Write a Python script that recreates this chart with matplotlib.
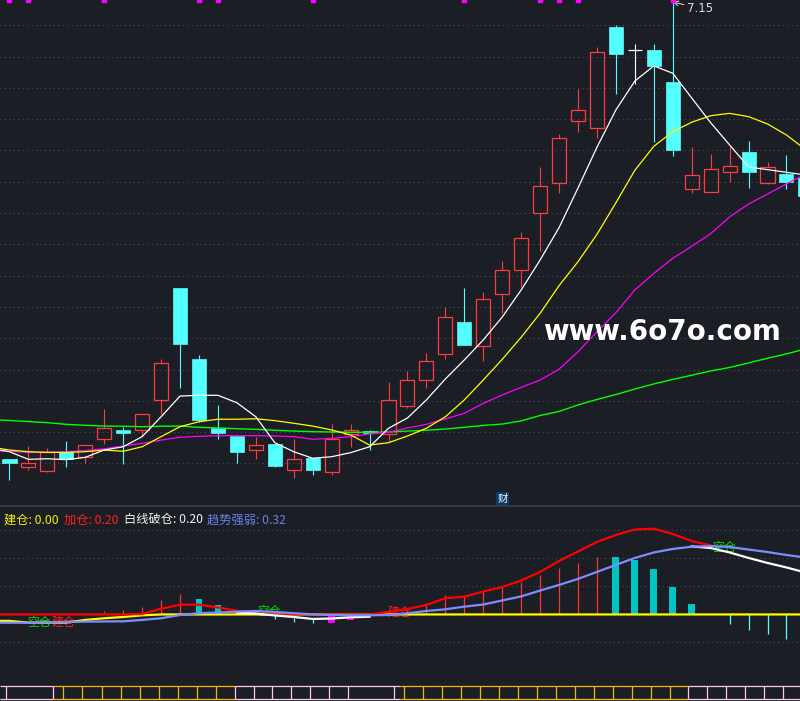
import matplotlib
matplotlib.use('Agg')
import matplotlib.pyplot as plt
from matplotlib.patches import Rectangle
import numpy as np

plt.rcParams['font.family'] = ['Noto Sans CJK SC', 'DejaVu Sans']

BG = '#1c1e26'
RED = '#ff3c3c'
CYAN = '#54ffff'
GRID = '#4a4e58'

# ---------------- data: daily candles (price) ----------------
opens = [4.209, 4.158, 4.136, 4.254, 4.226, 4.338, 4.398, 4.396, 4.589, 5.311,
         4.854, 4.411, 4.361, 4.267, 4.308, 4.138, 4.216, 4.126, 4.370, 4.391,
         4.370, 4.550, 4.719, 4.888, 5.092, 4.940, 5.270, 5.425, 5.791, 5.984,
         6.383, 6.338, 6.989, 6.840, 6.841, 6.636, 5.946, 5.930, 6.055, 6.184,
         5.988, 6.046, 6.018]
highs = [4.209, 4.295, 4.282, 4.327, 4.301, 4.533, 4.419, 4.501, 4.854, 5.311,
         4.880, 4.558, 4.361, 4.353, 4.308, 4.340, 4.216, 4.436, 4.438, 4.396,
         4.706, 4.777, 4.893, 5.187, 5.311, 5.285, 5.485, 5.669, 6.089, 6.299,
         6.589, 6.859, 7.002, 6.880, 6.880, 7.150, 6.218, 6.173, 6.218, 6.256,
         6.121, 6.166, 6.057]
lows = [4.076, 4.140, 4.130, 4.162, 4.187, 4.310, 4.181, 4.359, 4.503, 4.670,
        4.447, 4.342, 4.187, 4.213, 4.160, 4.091, 4.110, 4.110, 4.290, 4.271,
        4.329, 4.541, 4.670, 4.856, 4.946, 4.843, 5.152, 5.315, 5.549, 5.920,
        6.312, 6.274, 6.560, 6.621, 6.252, 6.158, 5.920, 5.930, 5.994, 5.956,
        5.978, 5.949, 5.903]
closes = [4.187, 4.184, 4.254, 4.209, 4.299, 4.409, 4.380, 4.499, 4.827, 4.953,
          4.464, 4.380, 4.258, 4.299, 4.168, 4.209, 4.142, 4.338, 4.396, 4.380,
          4.589, 4.717, 4.839, 5.122, 4.946, 5.238, 5.425, 5.631, 5.965, 6.274,
          6.454, 6.827, 6.818, 6.840, 6.740, 6.200, 6.036, 6.074, 6.094, 6.059,
          6.087, 5.994, 5.903]

# moving averages, from bar -1 (left of view) to bar 42
ma_white = [4.279, 4.258, 4.209, 4.213, 4.207, 4.222, 4.269, 4.290, 4.355, 4.483,
            4.616, 4.621, 4.621, 4.573, 4.483, 4.316, 4.258, 4.216, 4.226, 4.252,
            4.290, 4.409, 4.475, 4.591, 4.726, 4.848, 4.977, 5.124, 5.298, 5.491,
            5.699, 5.954, 6.216, 6.456, 6.642, 6.739, 6.692, 6.533, 6.374, 6.231,
            6.089, 6.072, 6.055, 6.038]
ma_yellow = [4.288, 4.269, 4.258, 4.254, 4.254, 4.258, 4.269, 4.261, 4.290, 4.355,
             4.419, 4.451, 4.467, 4.467, 4.470, 4.458, 4.441, 4.423, 4.398, 4.366,
             4.301, 4.316, 4.359, 4.409, 4.483, 4.591, 4.719, 4.852, 4.994, 5.148,
             5.326, 5.480, 5.656, 5.859, 6.068, 6.222, 6.316, 6.377, 6.419, 6.434,
             6.413, 6.366, 6.295, 6.202]
ma_magenta = [4.264, 4.261, 4.254, 4.254, 4.258, 4.266, 4.277, 4.295, 4.312, 4.333,
              4.351, 4.357, 4.361, 4.361, 4.361, 4.359, 4.355, 4.338, 4.344, 4.355,
              4.372, 4.383, 4.411, 4.434, 4.469, 4.505, 4.569, 4.623, 4.672, 4.719,
              4.788, 4.901, 5.030, 5.152, 5.298, 5.405, 5.502, 5.579, 5.660, 5.768,
              5.851, 5.915, 5.980, 6.044]
ma_green = [4.465, 4.459, 4.452, 4.445, 4.434, 4.428, 4.423, 4.422, 4.419, 4.422,
            4.423, 4.415, 4.411, 4.406, 4.402, 4.396, 4.391, 4.387, 4.385, 4.383,
            4.383, 4.385, 4.391, 4.396, 4.404, 4.415, 4.427, 4.436, 4.456, 4.491,
            4.517, 4.559, 4.594, 4.626, 4.661, 4.694, 4.723, 4.750, 4.777, 4.800,
            4.829, 4.859, 4.887, 4.919]

signal_bars = [0, 1, 5, 10, 11, 16, 24, 28, 29, 30, 35]
high_label = '7.15'

# ---------------- data: indicator panel (bar -1 .. 42) ----------------
nan = np.nan
jiancang = [-0.046, -0.046, -0.058, -0.058, -0.058, -0.039, -0.027, -0.018, -0.006] + [0.0] * 35
jiacang = [0.0, 0, 0, 0, 0, 0, 0, 0, 0.003, 0.041, 0.07, 0.07, 0.05, 0.026, 0.011,
           0, 0, 0, 0, 0, 0, 0.018, 0.039, 0.068, 0.116, 0.127, 0.164, 0.196, 0.243,
           0.304, 0.382, 0.45, 0.518, 0.568, 0.607, 0.613, 0.575, 0.525, 0.493,
           nan, nan, nan, nan, nan]
baixian = [nan] * 13 + [0.013, 0.007, -0.007, -0.018, -0.032, -0.029, -0.02, -0.016] + \
          [nan] * 16 + [0.486, 0.475, 0.443, 0.404, 0.368, 0.336, 0.3]
qushi = [-0.059, -0.059, -0.059, -0.057, -0.054, -0.051, -0.05, -0.049, -0.039, -0.027,
         -0.004, 0.009, 0.014, 0.02, 0.025, 0.018, 0.009, 0.001, -0.004, -0.006,
         -0.006, -0.004, 0.009, 0.025, 0.037, 0.056, 0.071, 0.1, 0.129, 0.171,
         0.211, 0.254, 0.304, 0.354, 0.404, 0.443, 0.468, 0.484, 0.489, 0.482,
         0.464, 0.446, 0.425, 0.407]

red_stick_bars = [5, 6, 7, 8, 9, 21, 22, 23, 24, 25, 26, 27, 28, 29, 30, 31]
red_stick_vals = [0.024, 0.031, 0.054, 0.102, 0.145, 0.03, 0.079, 0.138, 0.138,
                  0.161, 0.197, 0.233, 0.281, 0.329, 0.369, 0.411]
teal_bars = [10, 11, 32, 33, 34, 35, 36]
teal_vals = [0.111, 0.068, 0.413, 0.389, 0.325, 0.196, 0.075]
cyan_down_bars = [38, 39, 40, 41]
cyan_down_vals = [-0.068, -0.111, -0.139, -0.175]
cyan_mid_bars = [14, 15, 16]
cyan_mid_top = [-0.004, -0.027, -0.034]
cyan_mid_bot = [-0.034, -0.051, -0.063]
mag_bars = [17, 18, 19]
mag_top = [-0.011, -0.011, -0.013]
mag_bot = [-0.059, -0.039, -0.018]

legend_items = [('建仓: 0.00', '#f0f000'), ('加仓: 0.20', '#ff2020'),
                ('白线破仓: 0.20', '#f0f0f0'), ('趋势强弱: 0.32', '#6b80ec')]

# ---------------- figure ----------------
W, H = 800, 701
fig = plt.figure(figsize=(8, 7.01), dpi=100, facecolor=BG)


def fax(top, bot):
    a = fig.add_axes([0, 1 - bot / H, 1, (bot - top) / H])
    a.set_facecolor(BG)
    for s in a.spines.values():
        s.set_visible(False)
    a.set_xticks([]); a.set_yticks([])
    return a


XL = (-0.5013, 41.715)
ax = fax(0, 506)
ax.set_xlim(*XL)
ax.set_ylim(3.909, 7.163)
ax2 = fax(506, 685)
ax2.set_xlim(*XL)
ax2.set_ylim(-0.504, 0.775)
ax3 = fax(685, 701)
ax3.set_xlim(0, 800)
ax3.set_ylim(16, 0)

# grid
for k in range(15):
    ax.axhline(7.0 - 0.2012 * k, color=GRID, lw=0.8, ls=(0, (1, 3)), zorder=0)
for g in [0.6, 0.4, 0.2, -0.2]:
    ax2.axhline(g, color=GRID, lw=0.8, ls=(0, (1, 3)), zorder=0)

# candles
bw = 0.74
for i, (o, h, l, c) in enumerate(zip(opens, highs, lows, closes)):
    if c > o:
        ax.vlines(i, c, h, color=RED, lw=0.8, zorder=2)
        ax.vlines(i, l, o, color=RED, lw=0.8, zorder=2)
        ax.add_patch(Rectangle((i - bw / 2, o), bw, c - o, fill=False,
                               edgecolor=RED, lw=0.9, zorder=2))
    elif c < o:
        ax.vlines(i, l, h, color=CYAN, lw=0.8, zorder=2)
        ax.add_patch(Rectangle((i - bw / 2, c), bw, o - c, facecolor=CYAN,
                               edgecolor=CYAN, lw=0.5, zorder=2))
    else:
        ax.vlines(i, l, h, color='white', lw=0.8, zorder=2)
        ax.hlines(o, i - bw / 2, i + bw / 2, color='white', lw=0.9, zorder=2)

xm = np.arange(-1, len(ma_white) - 1)
ax.plot(xm, ma_green, color='#00ff00', lw=1.0, zorder=3)
ax.plot(xm, ma_magenta, color='#ff00ff', lw=0.9, zorder=3)
ax.plot(xm, ma_yellow, color='#ffff00', lw=0.9, zorder=3)
ax.plot(xm, ma_white, color='white', lw=0.9, zorder=3)

# signal markers on top edge
ax.plot(signal_bars, [7.160] * len(signal_bars), ls='none', marker='s', ms=2.4,
        color='#ff00ff', zorder=5, clip_on=False)

# high annotation
hi = int(np.argmax(highs))
ax.annotate(high_label, xy=(hi, highs[hi]), xytext=(10, -4.5), textcoords='offset points',
            color='#d8dce6', fontsize=8.5, family='DejaVu Sans', va='center', ha='left',
            arrowprops=dict(arrowstyle='->', color='#d8dce6', lw=0.7,
                            shrinkA=0, shrinkB=0))

# watermark
fig.text(543 / W, 1 - 339.5 / H, 'www.6o7o.com', fontsize=20, fontweight='bold',
         color='white', family='DejaVu Sans', ha='left', va='baseline', zorder=10)

# 财 tag
fig.patches.append(Rectangle((496 / W, 1 - 505 / H), 13 / W, 13 / H,
                             transform=fig.transFigure, facecolor='#0e3a66',
                             edgecolor='none', zorder=5))
fig.text(502.5 / W, 1 - 498.5 / H, '财', fontsize=7.5, color='white',
         ha='center', va='center', zorder=6)

# separator between panels
fig.add_artist(plt.Line2D([0, 1], [1 - 506 / H] * 2, color='#3b3f4a', lw=1.2,
                          transform=fig.transFigure))

# ---------------- indicator panel ----------------
xi = np.arange(-1, len(qushi) - 1)
ax2.vlines(red_stick_bars, 0, red_stick_vals, color='#ff3030', lw=0.9, zorder=2)
ax2.bar(teal_bars, teal_vals, width=0.36, color='#00c4c4', zorder=2)
ax2.vlines(cyan_down_bars, 0, cyan_down_vals, color=CYAN, lw=0.9, zorder=2)
ax2.vlines(cyan_mid_bars, cyan_mid_bot, cyan_mid_top, color=CYAN, lw=0.9, zorder=2)
ax2.bar(mag_bars, np.array(mag_top) - np.array(mag_bot), bottom=mag_bot,
        width=[0.36, 0.36, 0.12], color='#ff00ff', zorder=2)

# signal labels
for txt, xx, yy, col in [('空仓', 1.58, -0.054, '#00dd00'), ('建仓', 2.86, -0.054, '#ff2020'),
                          ('空仓', 13.72, 0.021, '#00dd00'), ('建仓', 20.6, 0.014, '#ff2020'),
                          ('空仓', 37.68, 0.482, '#00dd00')]:
    ax2.text(xx, yy, txt, color=col, fontsize=8.6, ha='center', va='center', zorder=3)

ax2.plot(xi, jiancang, color='#ffff00', lw=1.6, zorder=4)
ax2.plot(xi, jiacang, color='#ff0000', lw=1.6, zorder=5)
ax2.plot(xi, baixian, color='white', lw=1.6, zorder=6)
ax2.plot(xi, qushi, color='#7f8cff', lw=1.6, zorder=7)

# legend texts
lx = [4, 64, 124, 207]
for (t, c), x0 in zip(legend_items, lx):
    fig.text(x0 / W, 1 - 523.5 / H, t, color=c, fontsize=8.8, ha='left', va='baseline')

# ---------------- bottom period strip ----------------
PINK = '#ffc4f4'
GOLD = '#f0bb00'
strip_segments = [(0, 53, PINK), (53, 235, GOLD), (235, 400, PINK), (400, 688, GOLD), (688, 800, PINK)]
strip_seps = [(6, PINK), (53, PINK), (63, GOLD), (82, GOLD), (102, GOLD), (121, GOLD),
              (140, GOLD), (159, GOLD), (178, GOLD), (197, GOLD), (216, GOLD),
              (235, PINK), (254, PINK), (272, PINK), (291, PINK), (310, PINK),
              (329, PINK), (348, PINK), (394, PINK), (404, GOLD), (423, GOLD),
              (442, GOLD), (461, GOLD), (480, GOLD), (499, GOLD), (518, GOLD),
              (537, GOLD), (556, GOLD), (575, GOLD), (594, GOLD), (613, GOLD),
              (632, GOLD), (651, GOLD), (670, GOLD), (688, PINK), (707, PINK),
              (726, PINK), (745, PINK), (764, PINK), (783, PINK)]
for a0, a1, c in strip_segments:
    ax3.hlines([0.7, 14.3], a0, a1, color=c, lw=0.9)
for sx, c in strip_seps:
    ax3.vlines(sx, 0.7, 14.3, color=c, lw=0.9)

fig.savefig('out.png', dpi=100, facecolor=BG)
